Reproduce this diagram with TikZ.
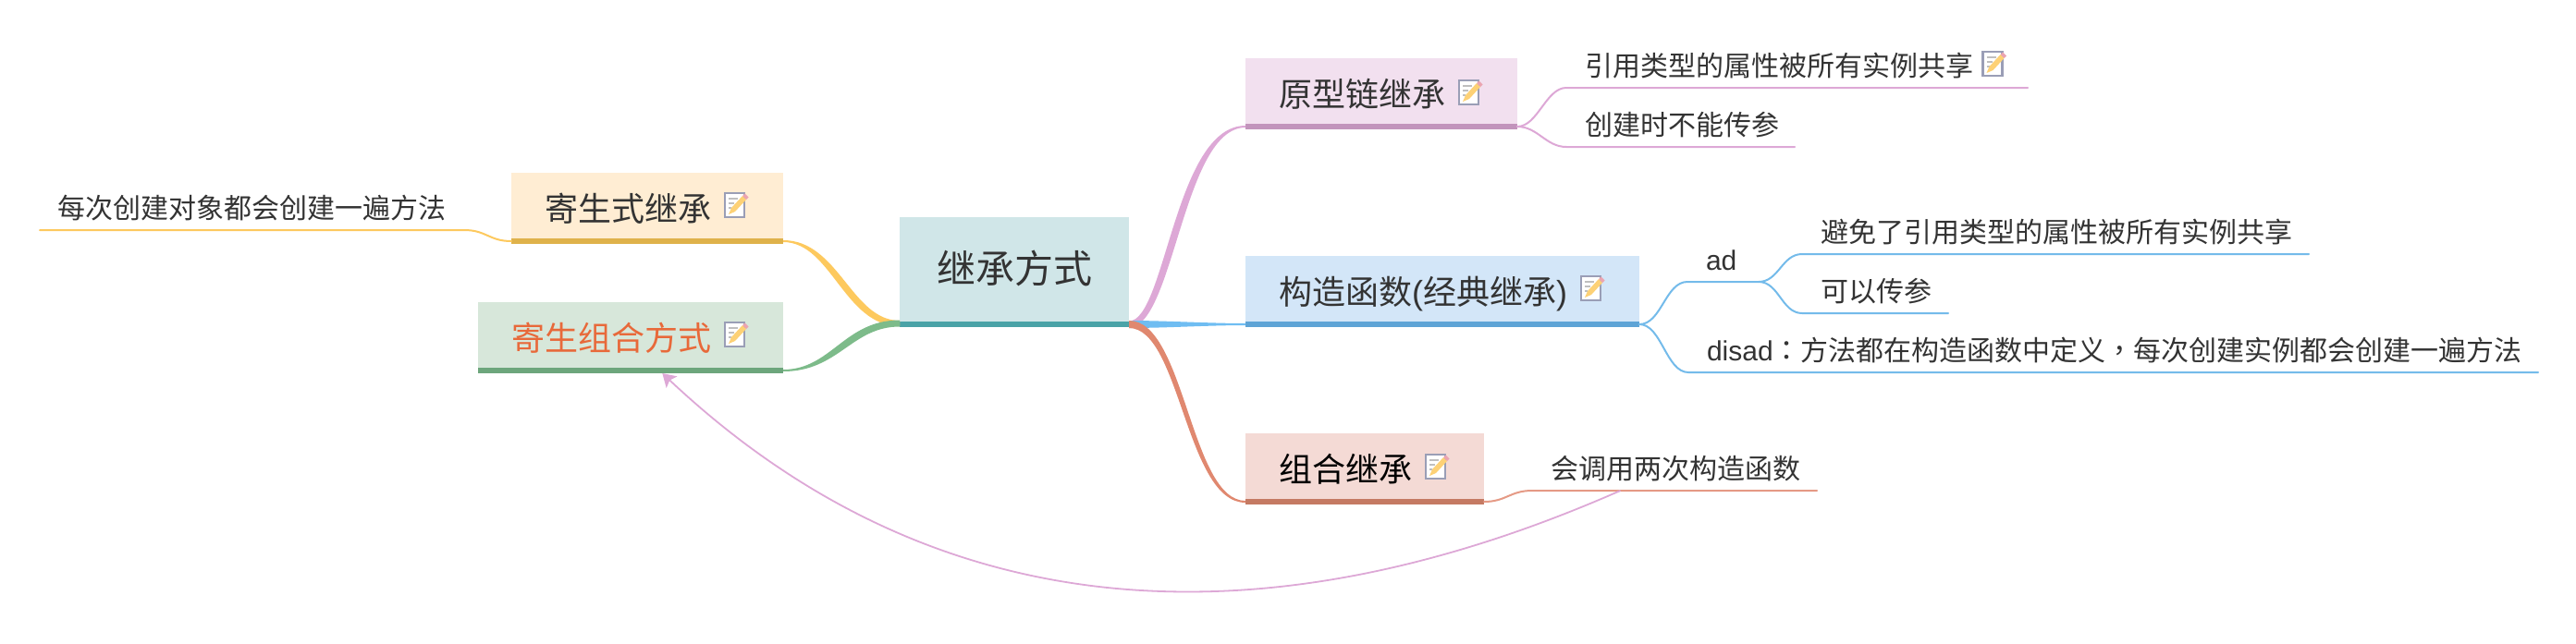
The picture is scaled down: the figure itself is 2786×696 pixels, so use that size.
\documentclass[tikz,border=0pt]{standalone}
\usepackage{fontspec}
\setmainfont{Liberation Sans}
\newfontfamily\cjk{Noto Sans CJK SC}
\newfontfamily\cjkp{Noto Sans CJK TC}
\usetikzlibrary{calc,arrows.meta}
\definecolor{txt}{HTML}{333333}
\definecolor{rootfill}{HTML}{D0E6E8}\definecolor{rootbar}{HTML}{4AA3A7}
\definecolor{pinkfill}{HTML}{F2E0EF}\definecolor{pinkbar}{HTML}{C294BC}\definecolor{pinkln}{HTML}{DDA8D6}
\definecolor{bluefill}{HTML}{D3E6F8}\definecolor{bluebar}{HTML}{5EA4D6}\definecolor{blueln}{HTML}{74BBEA}\definecolor{bluetaper}{HTML}{6FBDF2}
\definecolor{salfill}{HTML}{F4DAD5}\definecolor{salbar}{HTML}{C57A63}\definecolor{salln}{HTML}{E0886F}
\definecolor{yelfill}{HTML}{FFEDD3}\definecolor{yelbar}{HTML}{DFB24B}\definecolor{yelln}{HTML}{FDC95E}
\definecolor{grnfill}{HTML}{D7E7DA}\definecolor{grnbar}{HTML}{6DA67C}\definecolor{grnln}{HTML}{7DBB8A}
\definecolor{orangetxt}{HTML}{E8693A}
\definecolor{iconedge}{HTML}{9A9EB6}
\newcommand\sizedtext[1]{\fontsize{#1pt}{#1pt}\selectfont}
% tapered branch: colour, from, to, c1, c2, w0, w1, side shift
\newcommand\taper[8]{\fill[#1]
  ($(#2)+(0,-#6/2)$) .. controls ($(#2)+({(#4)+(#8)},-#6/2)$) and ($(#3)+({-(#5)+(#8)},-#7/2)$) .. ($(#3)+(0,-#7/2)$)
  -- ($(#3)+(0,#7/2)$) .. controls ($(#3)+({-(#5)-(#8)},#7/2)$) and ($(#2)+({(#4)-(#8)},#6/2)$) .. ($(#2)+(0,#6/2)$) -- cycle;}
% twig from a point to a leaf's underline
\newcommand\twig[4]{\draw[twigline,#1] (#2) .. controls ($(#2)+(#3,0)$) and ($(#4.south west)+(-#3,0)$) .. (#4.south west) -- (#4.south east);}
\newcommand\leaftext[2]{\makebox[#1pt][l]{\hspace*{20pt}#2}}
\tikzset{
  x=1pt,y=-1pt,
  mainbox/.style={inner sep=0pt,outer sep=0pt,anchor=north west,text=txt,font=\sizedtext{36},text height=38.7pt,text depth=4.3pt},
  rootbox/.style={inner sep=0pt,outer sep=0pt,anchor=north west,text=txt,font=\sizedtext{42},text height=35pt,text depth=5pt},
  leaf/.style={inner sep=0pt,outer sep=0pt,anchor=south west,text=txt,font=\sizedtext{30},text height=26.4pt,text depth=13pt},
  twigline/.style={line width=2pt,line cap=round},
  relation/.style={draw=pinkln,line width=1.8pt,-{Stealth[length=14pt,width=17pt,inset=3pt]}},
  noteicon/.pic={
    \fill[white] (0,0) rectangle (23,28);
    \draw[iconedge,line width=2.2pt] (1,1) rectangle (22,27);
    \draw[gray!50,line width=1.1pt] (5,7) -- (15,7) (5,12) -- (11,12) (5,17) -- (8,17);
    \fill[yelln!85!white] (5,24) -- (8,17) -- (20,4) -- (24,8) -- (12,21) -- cycle;
    \fill[pinkbar!60!red!55!white] (20,4) -- (22.5,1.5) -- (26.5,5.5) -- (24,8) -- cycle;
  }
}
\begin{document}
\begin{tikzpicture}
\path[use as bounding box] (0,0) rectangle (2786,696);

% boxes
\node[rootbox,fill=rootfill,minimum width=248pt,minimum height=113pt] (root) at (973,235) {\cjk 继承方式};
\node[mainbox,fill=pinkfill,minimum width=294pt,minimum height=71pt] (proto) at (1347,63) {\cjk 原型链继承\hspace*{42pt}};
\node[mainbox,fill=bluefill,minimum width=426pt,minimum height=71pt] (ctor) at (1347,277) {{\cjk 构造函数}({\cjk 经典继承})\hspace*{42pt}};
\node[mainbox,fill=salfill,minimum width=258pt,minimum height=71pt,text=black] (combo) at (1347,469) {\cjk 组合继承\hspace*{42pt}};
\node[mainbox,fill=yelfill,minimum width=294pt,minimum height=71pt] (para) at (553,187) {\cjk 寄生式继承\hspace*{42pt}};
\node[mainbox,fill=grnfill,minimum width=330pt,minimum height=71pt,text=orangetxt] (paracombo) at (517,327) {\cjk 寄生组合方式\hspace*{42pt}};

% bars
\fill[rootbar] (root.south west) rectangle ($(root.south east)+(0,6)$);
\fill[pinkbar] (proto.south west) rectangle ($(proto.south east)+(0,6)$);
\fill[bluebar] (ctor.south west) rectangle ($(ctor.south east)+(0,6)$);
\fill[salbar] (combo.south west) rectangle ($(combo.south east)+(0,6)$);
\fill[yelbar] (para.south west) rectangle ($(para.south east)+(0,6)$);
\fill[grnbar] (paracombo.south west) rectangle ($(paracombo.south east)+(0,6)$);

% anchor points at the middle of the bars
\coordinate (rootR) at ($(root.south east)+(0,3)$);
\coordinate (rootL) at ($(root.south west)+(0,2)$);
\coordinate (protoL) at ($(proto.south west)+(0,3)$);
\coordinate (protoR) at ($(proto.south east)+(0,3)$);
\coordinate (ctorL) at ($(ctor.south west)+(0,3)$);
\coordinate (ctorR) at ($(ctor.south east)+(0,3)$);
\coordinate (comboL) at ($(combo.south west)+(0,3)$);
\coordinate (comboR) at ($(combo.south east)+(0,3)$);
\coordinate (paraR) at ($(para.south east)+(0,3)$);
\coordinate (paraL) at ($(para.south west)+(0,3)$);
\coordinate (paracomboR) at ($(paracombo.south east)+(0,3)$);

% main branches
\taper{pinkln}{rootR}{protoL}{44}{72}{7}{2}{-4.5}
\taper{bluetaper}{rootR}{ctorL}{40}{40}{8}{2}{0}
\taper{salln}{rootR}{comboL}{58}{62}{8}{2}{2.5}
\taper{yelln}{rootL}{paraR}{-56}{-56}{6}{2}{4}
\taper{grnln}{rootL}{paracomboR}{-56}{-56}{7}{2}{-4}

% leaves
\node[leaf] (l1) at (1694,95) {\leaftext{499}{\cjk 引用类型的属性被所有实例共享}};
\node[leaf] (l2) at (1694,159) {\leaftext{247}{\cjk 创建时不能传参}};
\node[leaf] (ad) at (1825,305) {\leaftext{77}{ad}};
\node[leaf] (adone) at (1949,275) {\leaftext{548}{\cjk 避免了引用类型的属性被所有实例共享}};
\node[leaf] (adtwo) at (1949,339) {\leaftext{158}{\cjk 可以传参}};
\node[leaf] (disad) at (1826,403) {\leaftext{919}{disad{\cjkp ：}{\cjk 方法都在构造函数中定义}{\cjkp ，}{\cjk 每次创建实例都会创建一遍方法}}};
\node[leaf] (twice) at (1657,531) {\leaftext{308}{\cjk 会调用两次构造函数}};
\node[leaf] (each) at (43,249) {\makebox[459pt][l]{\hspace*{19pt}\cjk 每次创建对象都会创建一遍方法}};

% twigs
\twig{pinkln}{protoR}{22}{l1}
\twig{pinkln}{protoR}{22}{l2}
\twig{blueln}{ctorR}{24}{ad}
\twig{blueln}{ctorR}{24}{disad}
\twig{blueln}{ad.south east}{22}{adone}
\twig{blueln}{ad.south east}{22}{adtwo}
\twig{salln!85!white}{comboR}{24}{twice}
\draw[twigline,yelln] (paraL) .. controls ($(paraL)+(-24,0)$) and ($(each.south east)+(24,0)$) .. (each.south east) -- (each.south west);

% relation
\coordinate (reltail) at ($(twice.south west)!0.31!(twice.south east)$);
\coordinate (relhead) at ($(paracombo.south west)!0.604!(paracombo.south east)+(0,6)$);
\draw[relation] (reltail) .. controls (1380,695) and (1020,690) .. (relhead);

% icons
\pic at ($(proto.south east)+(-64,-48)$) {noteicon};
\pic at ($(ctor.south east)+(-64,-50)$) {noteicon};
\pic at ($(combo.south east)+(-64,-49)$) {noteicon};
\pic at ($(para.south east)+(-64,-50)$) {noteicon};
\pic at ($(paracombo.south east)+(-64,-50)$) {noteicon};
\pic at ($(l1.south east)+(-49.5,-40)$) {noteicon};
\end{tikzpicture}
\end{document}
